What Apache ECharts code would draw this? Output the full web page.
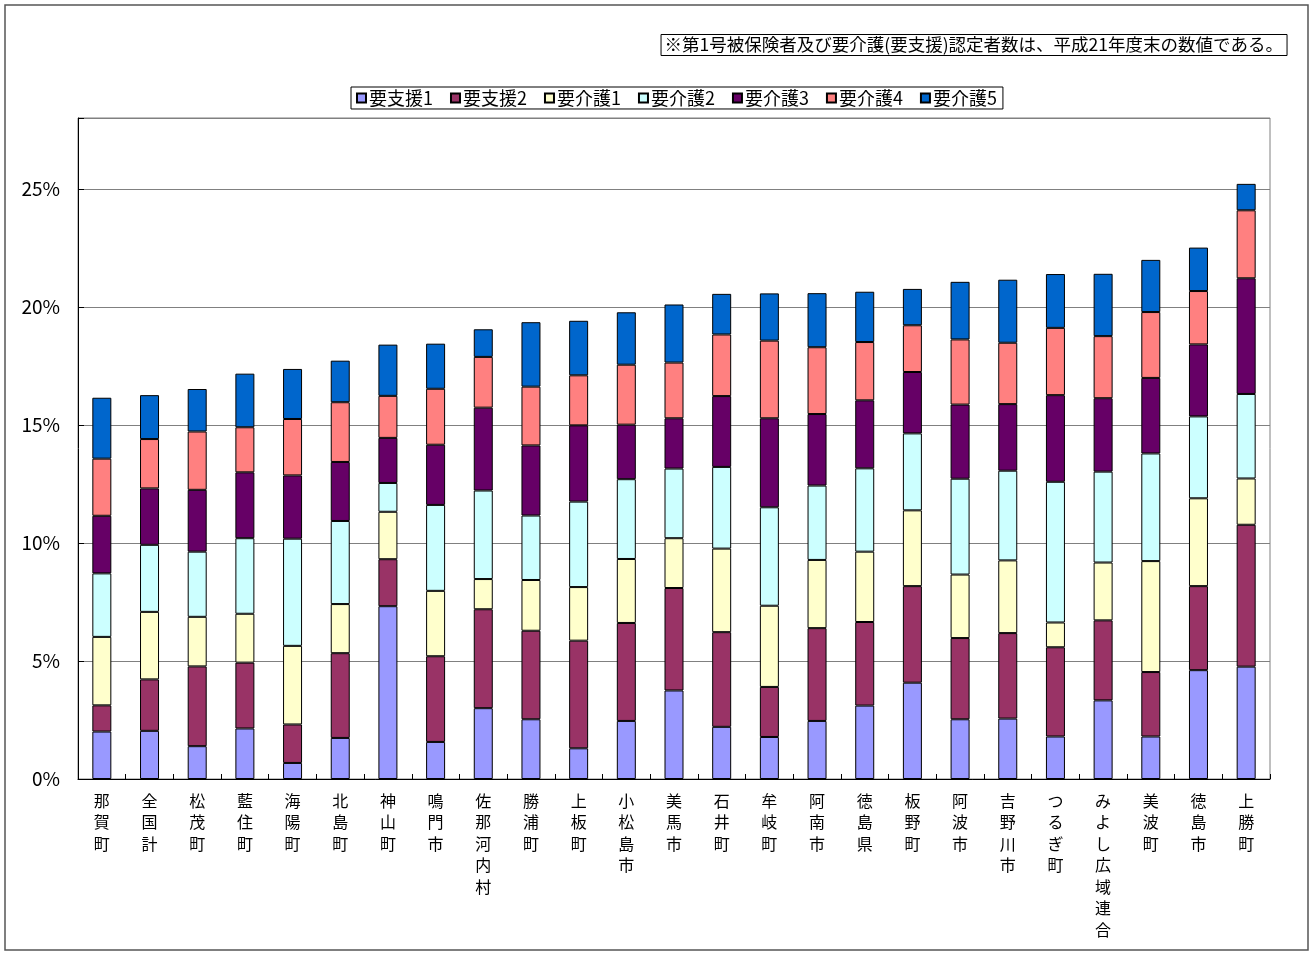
<!DOCTYPE html>
<html>
<head>
<meta charset="utf-8">
<script src="https://cdn.jsdelivr.net/npm/echarts@6/dist/echarts.min.js"></script>
<style>
html,body{margin:0;padding:0;background:#fff;}
#chart{width:1316px;height:954px;}
</style>
</head>
<body>
<div id="chart"></div>
<script>
const categories = ['那賀町','全国計','松茂町','藍住町','海陽町','北島町','神山町','鳴門市','佐那河内村','勝浦町','上板町','小松島市','美馬市','石井町','牟岐町','阿南市','徳島県','板野町','阿波市','吉野川市','つるぎ町','みよし広域連合','美波町','徳島市','上勝町'];
const seriesNames = ['要支援1','要支援2','要介護1','要介護2','要介護3','要介護4','要介護5'];
const youShien1 = [2.01,2.04,1.39,2.14,0.68,1.74,7.32,1.57,3.00,2.53,1.30,2.46,3.75,2.21,1.78,2.46,3.11,4.08,2.53,2.56,1.80,3.33,1.80,4.61,4.76];
const youShien2 = [1.11,2.18,3.38,2.79,1.63,3.59,1.99,3.63,4.19,3.75,4.56,4.15,4.34,4.01,2.12,3.93,3.54,4.09,3.44,3.62,3.78,3.39,2.73,3.56,6.01];
const youKaigo1 = [2.90,2.86,2.10,2.07,3.33,2.08,2.01,2.77,1.28,2.15,2.27,2.71,2.11,3.54,3.44,2.89,2.98,3.21,2.69,3.08,1.05,2.45,4.70,3.72,1.96];
const youKaigo2 = [2.69,2.84,2.76,3.20,4.54,3.52,1.22,3.64,3.75,2.73,3.62,3.38,2.95,3.46,4.17,3.15,3.53,3.26,4.06,3.80,5.96,3.85,4.56,3.47,3.58];
const youKaigo3 = [2.44,2.39,2.62,2.79,2.68,2.50,1.91,2.55,3.51,2.97,3.23,2.31,2.13,3.00,3.77,3.03,2.88,2.60,3.14,2.82,3.67,3.11,3.20,3.05,4.90];
const youKaigo4 = [2.42,2.09,2.47,1.91,2.39,2.53,1.78,2.37,2.15,2.49,2.12,2.54,2.36,2.61,3.29,2.83,2.47,1.98,2.76,2.60,2.85,2.63,2.79,2.26,2.88];
const youKaigo5 = [2.58,1.86,1.80,2.27,2.12,1.76,2.17,1.91,1.17,2.73,2.31,2.22,2.46,1.72,2.00,2.29,2.13,1.54,2.44,2.67,2.28,2.64,2.21,1.84,1.12];
const yTicks = [0,5,10,15,20,25];
const noteText = '※第1号被保険者及び要介護(要支援)認定者数は、平成21年度末の数値である。';

const seriesData = [youShien1,youShien2,youKaigo1,youKaigo2,youKaigo3,youKaigo4,youKaigo5];
const colors = ['#9999FF','#993366','#FFFFCC','#CCFFFF','#660066','#FF8080','#0066CC'];
const FONT = '"Noto Sans CJK JP", sans-serif';

const chart = echarts.init(document.getElementById('chart'));
chart.setOption({
  animation: false,
  backgroundColor: '#fff',
  textStyle: { fontFamily: FONT },
  graphic: [{
    type: 'rect',
    shape: { x: 5, y: 5, width: 1303, height: 945 },
    style: { fill: 'none', stroke: '#555', lineWidth: 1.5 },
    silent: true
  }],
  title: {
    text: noteText,
    right: 29,
    top: 34,
    padding: [2, 4, 2, 4],
    borderColor: '#000',
    borderWidth: 1,
    textStyle: { fontFamily: FONT, fontSize: 17.5, fontWeight: 'normal', color: '#000' }
  },
  legend: {
    data: seriesNames,
    left: 351,
    top: 87,
    padding: [2, 6, 2, 5],
    itemGap: 17,
    itemWidth: 9,
    itemHeight: 9,
    icon: 'rect',
    borderColor: '#000',
    borderWidth: 1,
    selectedMode: false,
    textStyle: { fontFamily: FONT, fontSize: 18, color: '#000', padding: [0,0,0,-2] }
  },
  grid: { left: 78, top: 118, right: 46, bottom: 175, show: true, borderColor: '#808080', borderWidth: 1, containLabel: false },
  xAxis: {
    type: 'category',
    data: categories,
    axisLine: { lineStyle: { color: '#000', width: 1 } },
    axisTick: { show: true, inside: true, length: 5, lineStyle: { color: '#000' } },
    axisLabel: {
      interval: 0,
      margin: 11,
      color: '#000',
      fontSize: 16,
      lineHeight: 21.5,
      fontFamily: FONT,
      formatter: v => v.split('').join('\n')
    }
  },
  yAxis: {
    type: 'value',
    min: 0,
    max: 28,
    interval: 5,
    axisLine: { show: true, lineStyle: { color: '#000', width: 1 } },
    axisTick: { show: true, inside: true, length: 6, lineStyle: { color: '#000' } },
    splitLine: { lineStyle: { color: '#808080', width: 1 } },
    axisLabel: {
      margin: 18,
      color: '#000',
      fontSize: 19,
      fontFamily: FONT,
      formatter: v => (yTicks.indexOf(v) >= 0 ? v + '%' : '')
    }
  },
  series: seriesNames.map((name, i) => ({
    name: name,
    type: 'bar',
    stack: 'total',
    barWidth: 19,
    data: seriesData[i],
    itemStyle: { color: colors[i], borderColor: '#000', borderWidth: 1 }
  }))
});
</script>
</body>
</html>
